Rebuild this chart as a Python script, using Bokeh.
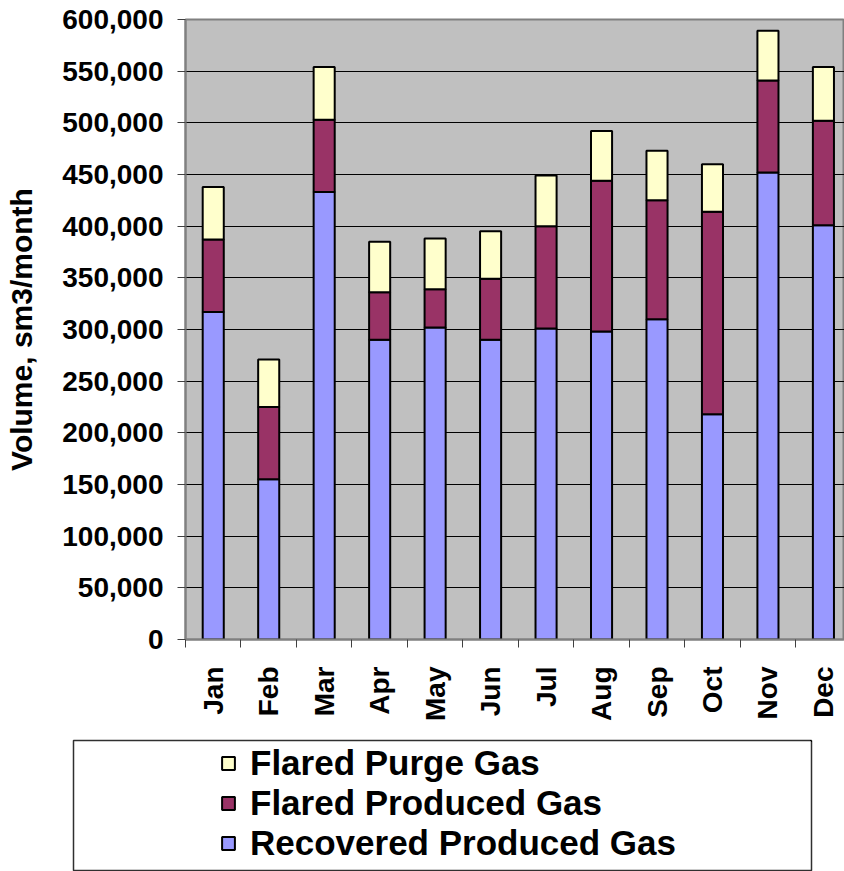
import math
from bokeh.plotting import figure
from bokeh.models import (ColumnDataSource, Range1d, FixedTicker, NumeralTickFormatter,
                          Legend, LegendItem)
from bokeh.layouts import column, row
from bokeh.embed import file_html
from bokeh.resources import INLINE

# ---------------- data ----------------
months = ["Jan", "Feb", "Mar", "Apr", "May", "Jun", "Jul", "Aug", "Sep", "Oct", "Nov", "Dec"]
recovered_produced = [317000, 155000, 433000, 290000, 302000, 290000,
                      301000, 298000, 310000, 218000, 452000, 401000]
flared_produced = [70000, 70000, 70000, 46000, 37000, 59000,
                   99000, 146000, 115000, 196000, 89000, 101000]
flared_purge = [51000, 46000, 51000, 49000, 49000, 46000,
                49000, 48000, 48000, 46000, 48000, 52000]
series_names = ["Recovered Produced Gas", "Flared Produced Gas", "Flared Purge Gas"]
series_colors = ["#9999FF", "#993366", "#FFFFCC"]
legend_order = ["Flared Purge Gas", "Flared Produced Gas", "Recovered Produced Gas"]
y_ticks = list(range(0, 600001, 50000))

FONT = "Liberation Sans"

x_centers = [i + 0.5 for i in range(len(months))]
x_bounds = [float(i) for i in range(len(months) + 1)]

src = ColumnDataSource(dict(x=x_centers, rec=recovered_produced,
                            flp=flared_produced, pur=flared_purge))

# ---------------- chart ----------------
p = figure(width=844, height=739, output_backend="svg", toolbar_location=None,
           x_range=Range1d(0, 11.88), y_range=Range1d(0, 600000),
           min_border_left=185, min_border_right=0, min_border_top=19,
           min_border_bottom=100)
p.background_fill_color = "#C0C0C0"
p.border_fill_color = "white"
p.outline_line_color = "#808080"
p.outline_line_width = 2

p.vbar_stack(["rec", "flp", "pur"], x="x", width=0.38, source=src,
             fill_color=series_colors, line_color="black", line_width=2)

p.xgrid.visible = False
p.ygrid.ticker = FixedTicker(ticks=y_ticks)
p.ygrid.grid_line_color = "black"
p.ygrid.grid_line_width = 1

ya = p.yaxis[0]
ya.ticker = FixedTicker(ticks=y_ticks)
ya.formatter = NumeralTickFormatter(format="0,0")
ya.major_label_text_font = FONT
ya.major_label_text_font_size = "28px"
ya.major_label_text_font_style = "bold"
ya.major_label_text_color = "black"
ya.major_label_standoff = 14
ya.major_tick_in = 0
ya.major_tick_out = 8
ya.major_tick_line_color = "#404040"
ya.minor_tick_line_color = None
ya.axis_line_color = "#808080"
ya.axis_line_width = 2
ya.axis_label = "Volume, sm3/month"
ya.axis_label_text_font = FONT
ya.axis_label_text_font_size = "30px"
ya.axis_label_text_font_style = "bold"
ya.axis_label_text_color = "black"
ya.axis_label_standoff = 21

xa = p.xaxis[0]
xa.ticker = FixedTicker(ticks=x_centers, minor_ticks=x_bounds)
xa.major_label_overrides = {x: m for x, m in zip(x_centers, months)}
xa.major_label_orientation = math.pi / 2
xa.major_label_text_font = FONT
xa.major_label_text_font_size = "28px"
xa.major_label_text_font_style = "bold"
xa.major_label_text_color = "black"
xa.major_tick_line_color = None
xa.major_tick_in = 0
xa.major_tick_out = 8
xa.minor_tick_in = 0
xa.minor_tick_out = 8
xa.minor_tick_line_color = "#404040"
xa.major_label_standoff = 19
xa.axis_line_color = "#808080"
xa.axis_line_width = 2

# ---------------- legend panel (its frame is the legend box) ----------------
pl = figure(width=844, height=132, output_backend="svg", toolbar_location=None,
            x_range=Range1d(-2, -1), y_range=Range1d(-2, -1),
            x_axis_type=None, y_axis_type=None,
            min_border_left=73, min_border_right=33, min_border_top=1,
            min_border_bottom=0)
pl.grid.visible = False
pl.outline_line_color = "#303030"
pl.outline_line_width = 1.5
pl.background_fill_color = "white"
pl.border_fill_color = "white"

# same stacked series (outside this panel's visible range) as legend swatches
proxies = pl.vbar_stack(["rec", "flp", "pur"], x="x", width=0.38, source=src,
                        fill_color=series_colors, line_color="black", line_width=2)
proxy_by_name = dict(zip(series_names, proxies))

legend = Legend(items=[LegendItem(label=n, renderers=[proxy_by_name[n]]) for n in legend_order],
                location=(147, 8), padding=0, spacing=0, margin=0,
                border_line_color=None, background_fill_alpha=0,
                label_text_font=FONT, label_text_font_size="35px",
                label_text_font_style="bold", label_text_color="black",
                glyph_width=16, glyph_height=16, label_standoff=14,
                label_height=38)
pl.add_layout(legend)

layout = column(p, row(pl), spacing=0)
open("out.html", "w").write(file_html(layout, INLINE))
